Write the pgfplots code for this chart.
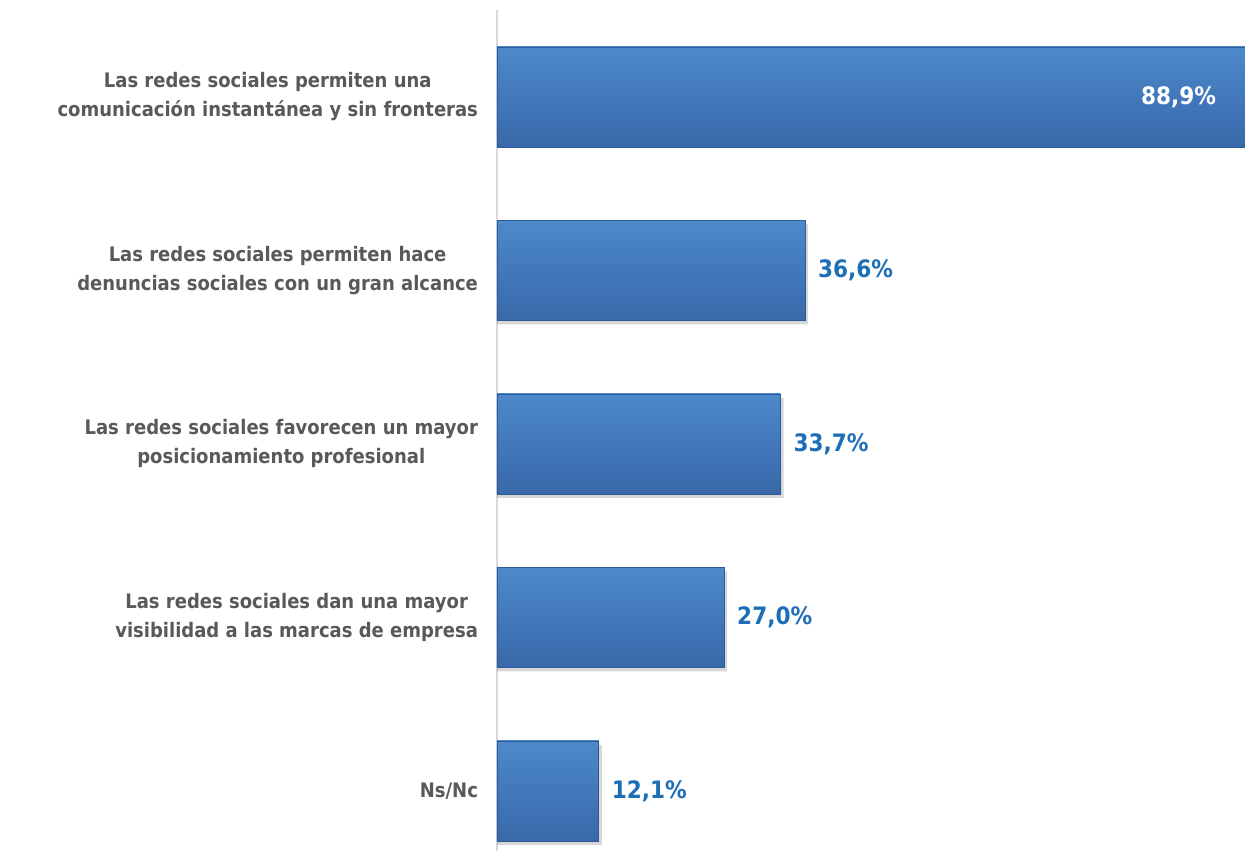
\documentclass[border=0pt]{standalone}
\usepackage{pgfplots}
\pgfplotsset{compat=1.18}
\usepackage{pgfplotstable}
\usepackage{fontspec}
\setmainfont{DejaVu Sans Condensed}

\definecolor{labgray}{HTML}{595959}
\definecolor{valblue}{HTML}{1E6EB7}
\definecolor{bartop}{HTML}{4C89CB}
\definecolor{barbot}{HTML}{3868AA}
\definecolor{baredge}{HTML}{2E5A96}

% rest of the bars (labels outside)
\pgfplotstableread{
pos v
1 12.1
2 27.0
3 33.7
4 36.6
}\rest
% top bar (label inside)
\pgfplotstableread{
pos v
5 88.9
}\top

\begin{document}
\begin{tikzpicture}
\path[use as bounding box] (-248.5pt,0) rectangle (374pt,425.5pt);
\begin{axis}[
    at={(0,0)}, anchor=south west,
    scale only axis,
    width=374pt, height=420.5pt,
    xmin=0, xmax=88.9,
    ymin=0.654, ymax=5.501,
    axis x line=none,
    axis y line*=left,
    y axis line style={draw=black!15, line width=0.8pt},
    ytick={1,2,3,4,5},
    major tick length=0pt,
    yticklabels={
        Ns/Nc,
        {Las redes sociales dan una mayor\\visibilidad a las marcas de empresa},
        {Las redes sociales favorecen un mayor\\posicionamiento profesional},
        {Las redes sociales permiten hace\\denuncias sociales con un gran alcance},
        {Las redes sociales permiten una\\comunicación instantánea y sin fronteras}},
    yticklabel style={align=center, font=\fontsize{10}{14.5}\selectfont\bfseries,
        text=labgray, xshift=-6pt},
    xbar, bar width=50pt,
    /pgf/number format/assume math mode=true,
    nodes near coords={\pgfmathprintnumber[fixed, fixed zerofill, precision=1, use comma]{\pgfplotspointmeta}\%},
    point meta=x,
    barstyle/.style={bar shift=0pt, top color=bartop, bottom color=barbot,
        draw=baredge, line width=0.4pt},
]
% soft shadow
\addplot[bar shift=-2pt, fill=black!45, draw=none, opacity=0.35, nodes near coords={}]
    table[x expr=\thisrow{v}+0.35, y=pos] {\rest};
\pgfplotsinvokeforeach{1,2,3,4}{
\addplot[barstyle, restrict y to domain=#1:#1,
    every node near coord/.append style={font=\fontsize{12}{14}\selectfont\bfseries,
        text=valblue, anchor=west, xshift=3pt}]
    table[x=v, y=pos] {\rest};
}
\addplot[barstyle,
    every node near coord/.append style={font=\fontsize{12}{14}\selectfont\bfseries,
        text=white, anchor=east, xshift=-11pt}]
    table[x=v, y=pos] {\top};
\end{axis}
\end{tikzpicture}
\end{document}
